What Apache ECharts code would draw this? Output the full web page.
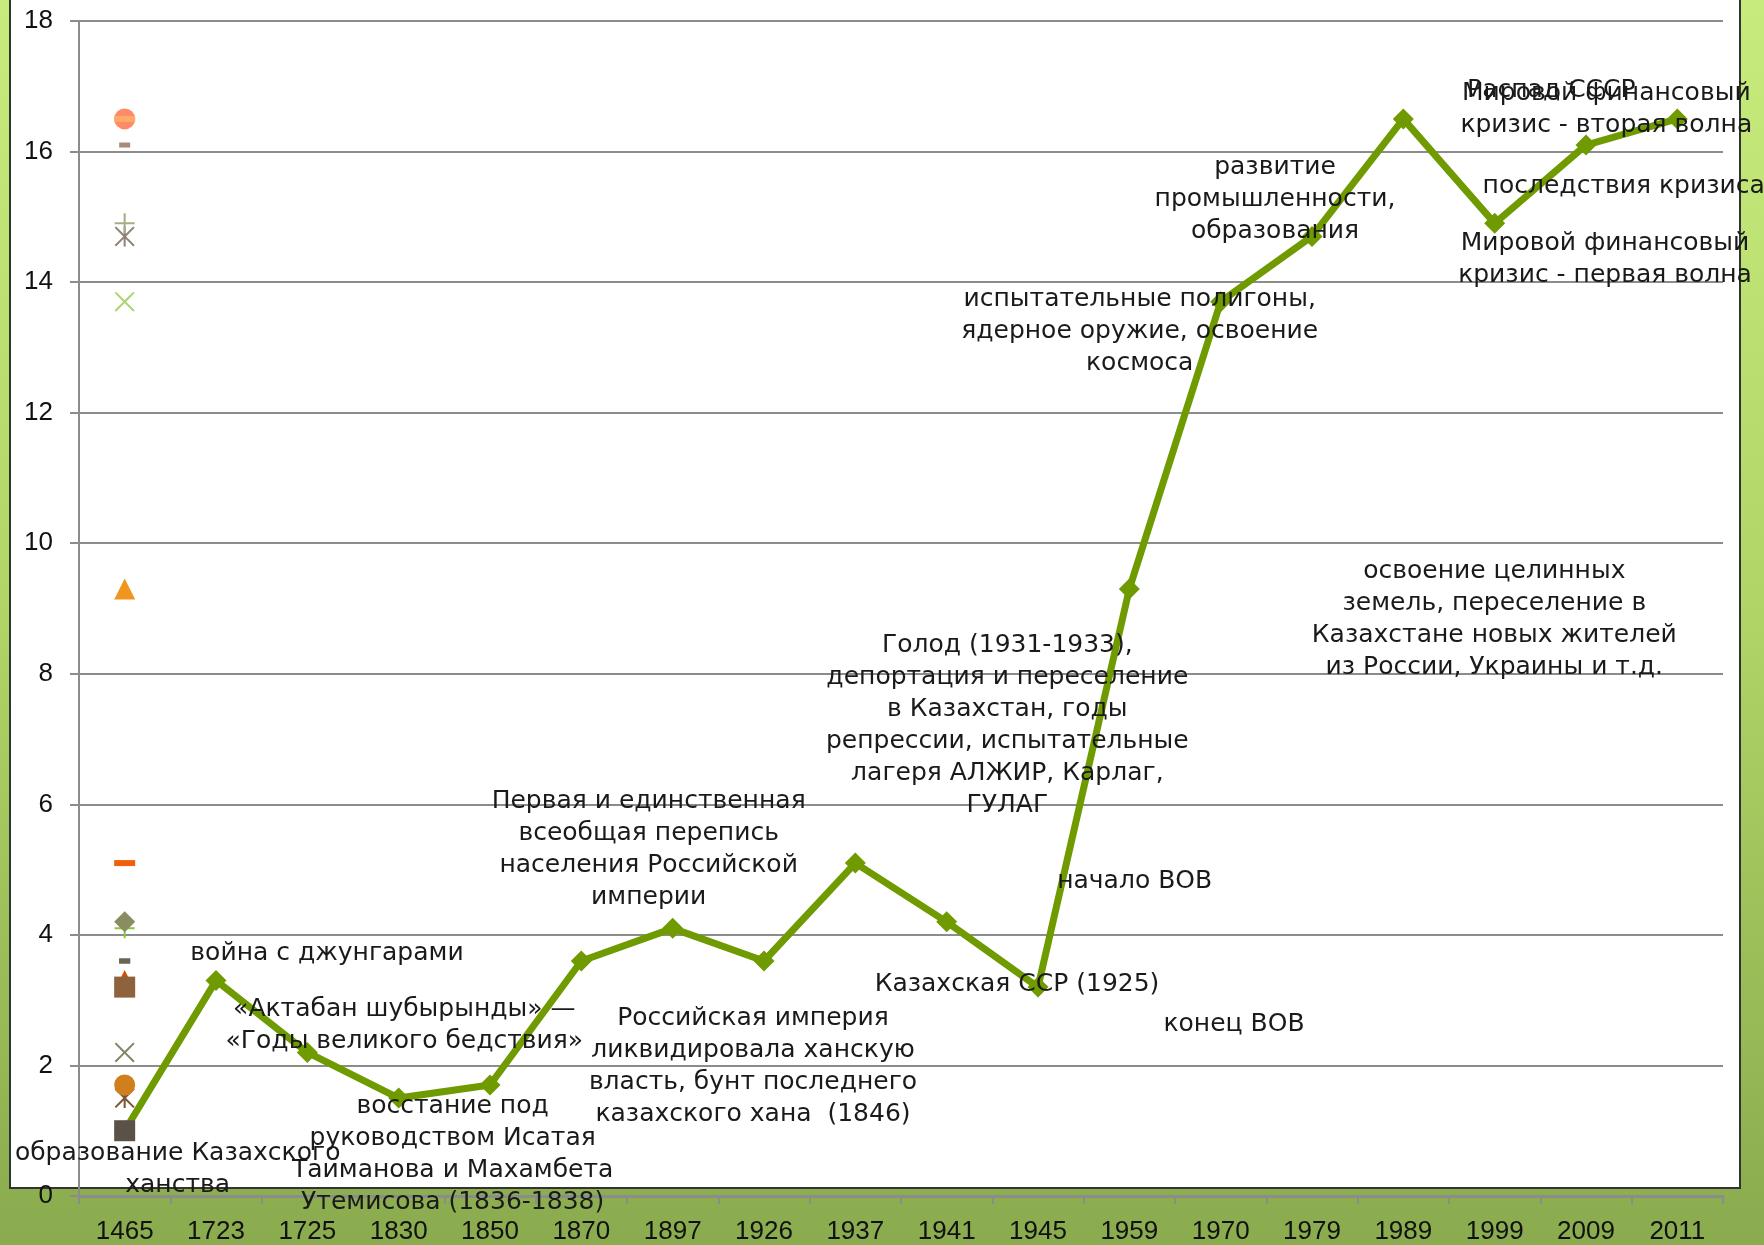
<!DOCTYPE html>
<html>
<head>
<meta charset="utf-8">
<script src="https://cdn.jsdelivr.net/npm/echarts@6/dist/echarts.min.js"></script>
<style>
  html, body { margin: 0; padding: 0; }
  #chart { width: 1764px; height: 1245px; }
</style>
</head>
<body>
<div id="chart"></div>
<script>
// годы (категории) и значения основной линии
const years = ['1465', '1723', '1725', '1830', '1850', '1870', '1897', '1926', '1937',
  '1941', '1945', '1959', '1970', '1979', '1989', '1999', '2009', '2011'];
const values = [1.0, 3.3, 2.2, 1.5, 1.7, 3.6, 4.1, 3.6, 5.1,
  4.2, 3.2, 9.3, 13.7, 14.7, 16.5, 14.9, 16.1, 16.5];
const yTicks = [0, 2, 4, 6, 8, 10, 12, 14, 16, 18];

// подписи событий
const notes = [
  'образование Казахского\nханства',
  'война с джунгарами',
  '«Актабан шубырынды» —\n«Годы великого бедствия»',
  'восстание под\nруководством Исатая\nТаиманова и Махамбета\nУтемисова (1836-1838)',
  'Российская империя\nликвидировала ханскую\nвласть, бунт последнего\nказахского хана  (1846)',
  '',
  'Первая и единственная\nвсеобщая перепись\nнаселения Российской\nимперии',
  'Казахская ССР (1925)',
  'Голод (1931-1933),\nдепортация и переселение\nв Казахстан, годы\nрепрессии, испытательные\nлагеря АЛЖИР, Карлаг,\nГУЛАГ',
  'начало ВОВ',
  'конец ВОВ',
  'освоение целинных\nземель, переселение в\nКазахстане новых жителей\nиз России, Украины и т.д.',
  'испытательные полигоны,\nядерное оружие, освоение\nкосмоса',
  'развитие\nпромышленности,\nобразования',
  'Распад СССР',
  'последствия кризиса',
  'Мировой финансовый\nкризис - первая волна',
  'Мировой финансовый\nкризис - вторая волна'
];

// смещения подписей относительно точек (px)
const noteOffsets = [
  [53, 39], [111, -27], [97, -27], [54, 56], [263, -19], [0, 0], [-24, -79], [253, 23],
  [152, -138], [188, -40], [196, 37], [365, 31], [-81, 30], [-37, -37], [148, -28],
  [129, -37], [19, 114], [-71, -9]
];

// маркеры "лишних" рядов у первой категории
const PLUS = 'path://M9,0h2v9h9v2h-9v9h-2v-9h-9v-2h9z';
const CROSS = 'path://M0,1.4L1.4,0L10,8.6L18.6,0L20,1.4L11.4,10L20,18.6L18.6,20L10,11.4L1.4,20L0,18.6L8.6,10Z';
const STAR = 'path://M0,1.4L1.4,0L10,8.6L18.6,0L20,1.4L11.4,10L20,18.6L18.6,20L10,11.4L1.4,20L0,18.6L8.6,10ZM9,0L11,0L11,20L9,20Z';
const ghostSymbols = ['rect', 'triangle', CROSS, STAR, 'circle', 'rect', PLUS, 'rect', 'rect',
  'diamond', 'rect', 'triangle', CROSS, STAR, 'circle', PLUS, 'rect', 'rect'];
const ghostSizes = [21, 21, 20, 20, 21, [11, 5], 20, [11, 5], [21, 6],
  21, 21, 21, 20, 20, 21, 20, [11, 5], [21, 6]];
const ghostColors = ['#5b5247', '#d0500a', '#7d8563', '#7b5232', '#d07f1c', '#6b6355', '#8cc63e', '#6b6355', '#f0600a',
  '#8a8c62', '#8e623c', '#f0961e', '#a9d46e', '#8c8476', '#ff8a68', '#a6ac86', '#a98a78', '#ffaa6a'];

const chart = echarts.init(document.getElementById('chart'));

const lineData = values.map((v, i) => ({
  value: v,
  label: notes[i] ? {
    show: true,
    formatter: notes[i],
    position: 'inside',
    offset: noteOffsets[i]
  } : { show: false }
}));

const ghostData = values.map((v, i) => ({
  value: [0, v],
  symbol: ghostSymbols[i],
  symbolSize: ghostSizes[i],
  itemStyle: { color: ghostColors[i], opacity: 1 }
}));

const option = {
  animation: false,
  backgroundColor: new echarts.graphic.LinearGradient(0, 0, 0, 1, [
    { offset: 0, color: '#c8ec7c' },
    { offset: 0.5, color: '#b0d466' },
    { offset: 1, color: '#8aab4e' }
  ]),
  graphic: [
    {
      type: 'rect',
      z: -10,
      silent: true,
      shape: { x: 10, y: -4, width: 1730, height: 1192 },
      style: { fill: '#ffffff', stroke: '#333333', lineWidth: 2 }
    }
  ],
  grid: { left: 79, right: 41, top: 21, bottom: 48 },
  xAxis: {
    type: 'category',
    data: years,
    boundaryGap: true,
    axisLine: { lineStyle: { color: '#8c8c8c', width: 3 } },
    axisTick: { show: true, length: 8, lineStyle: { color: '#8c8c8c', width: 2 } },
    axisLabel: {
      margin: 23,
      color: '#111111',
      fontFamily: 'Liberation Sans',
      fontSize: 26,
      interval: 0
    }
  },
  yAxis: {
    type: 'value',
    min: 0,
    max: 18,
    interval: 2,
    axisLine: { show: true, lineStyle: { color: '#8c8c8c', width: 2 } },
    axisTick: { show: true, length: 9, lineStyle: { color: '#8c8c8c', width: 2 } },
    splitLine: { lineStyle: { color: '#8c8c8c', width: 2 } },
    axisLabel: {
      margin: 26,
      color: '#111111',
      fontFamily: 'Liberation Sans',
      fontSize: 26,
      formatter: (v) => (yTicks.includes(v) ? String(v) : '')
    }
  },
  series: [
    {
      name: 'события',
      type: 'line',
      data: lineData,
      z: 2,
      symbol: 'diamond',
      symbolSize: 21,
      lineStyle: { color: '#6f9a00', width: 7 },
      itemStyle: { color: '#6f9a00' },
      label: {
        color: '#1a1a1a',
        fontFamily: 'DejaVu Sans',
        fontSize: 25,
        lineHeight: 32,
        align: 'center',
        verticalAlign: 'middle'
      }
    },
    {
      name: 'маркеры',
      type: 'scatter',
      data: ghostData,
      z: 3
    }
  ]
};

chart.setOption(option);
</script>
</body>
</html>
